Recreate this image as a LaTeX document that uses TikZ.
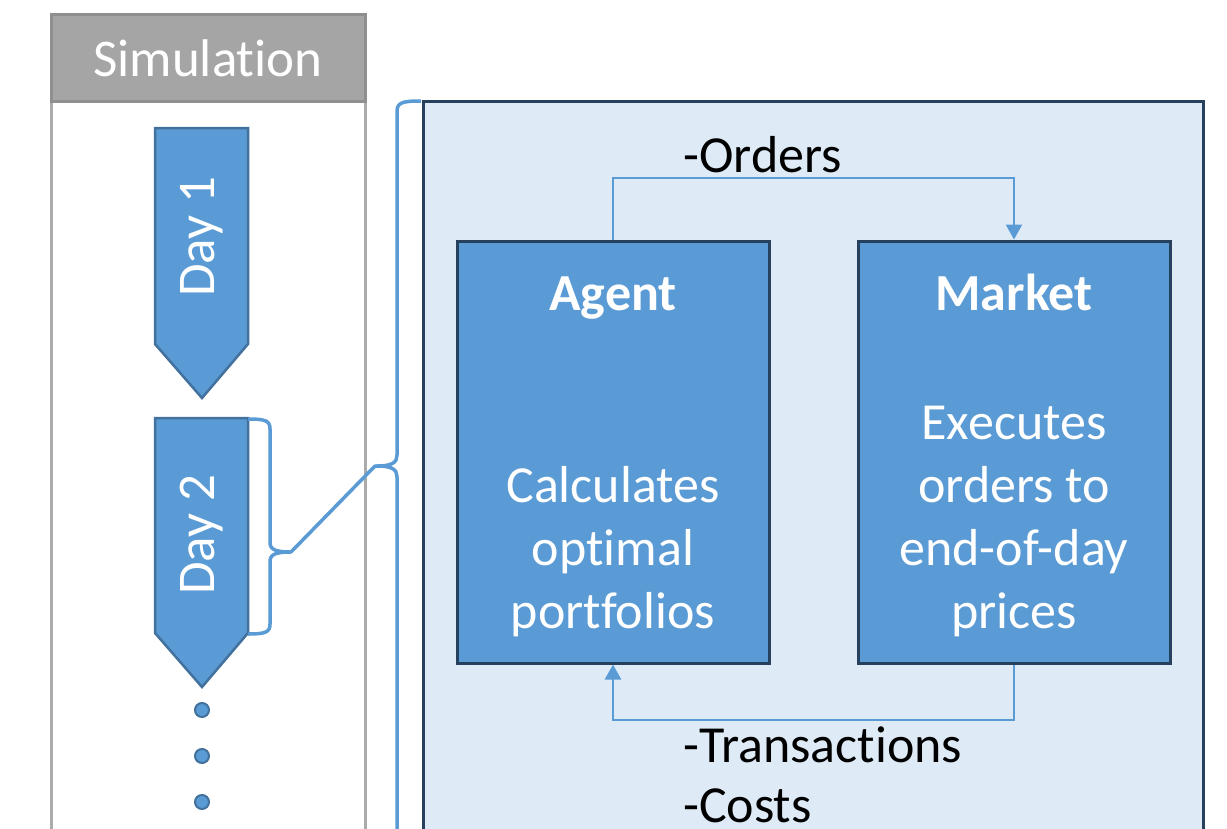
\documentclass[tikz,border=0pt]{standalone}
\usepackage{fontspec}
\setmainfont{Carlito}[Ligatures=NoCommon]
\usetikzlibrary{arrows.meta}
\definecolor{accent}{HTML}{5B9BD5}
\definecolor{accentdark}{HTML}{41719C}
\definecolor{navy}{HTML}{26405E}
\definecolor{paleblue}{HTML}{DEEBF7}
\definecolor{headgray}{HTML}{A5A5A5}
\definecolor{headline}{HTML}{8F8F8F}
\definecolor{bodyline}{HTML}{ABABAB}
\tikzset{
  dayarrow/.style={fill=accent, draw=accentdark, line width=2.5pt, line join=miter},
  daytext/.style={text=white, rotate=90, font=\fontsize{53}{60}\selectfont},
  dotmark/.style={circle, fill=accent, draw=accentdark, line width=2pt, minimum size=14pt, inner sep=0pt},
  bracket/.style={draw=accent, line width=3.5pt, line join=round},
  actor/.style={rectangle, fill=accent, draw=navy, line width=3pt, minimum width=312pt, minimum height=422pt, inner sep=0pt},
  title/.style={text=white, font=\fontsize{52}{63}\selectfont\bfseries, anchor=base},
  bodytext/.style={text=white, font=\fontsize{52}{63}\selectfont, align=center, anchor=base},
  flow/.style={draw=accent, line width=2.5pt, -{Triangle[width=16pt,length=15pt]}},
  flowlabel/.style={text=black, font=\fontsize{52}{60}\selectfont, anchor=base west, inner sep=0pt}
}
\begin{document}
\begin{tikzpicture}[x=1pt, y=-1pt]
\useasboundingbox (0,0) rectangle (1227,828);
\begin{scope}
\clip (0,0) rectangle (1227,828);

% simulation column
\draw[bodyline, line width=3pt, fill=white] (51,101) rectangle (365,860);
\draw[headline, line width=3pt, fill=headgray] (51,14) rectangle (365,101);
\node[text=white, font=\fontsize{53}{63}\selectfont] (simtitle) at (208,58) {Simulation};

% day arrows
\draw[dayarrow] (155,128) -- (248,128) -- (248,344) -- (202,398) -- (155,344) -- cycle;
\node[daytext] (day1) at (202,237) {Day 1};
\draw[dayarrow] (155,418) -- (248,418) -- (248,633) -- (202,687) -- (155,633) -- cycle;
\node[daytext] (day2) at (202,535) {Day 2};

% continuation dots
\node[dotmark] (dot1) at (202,710) {};
\node[dotmark] (dot2) at (202,756) {};
\node[dotmark] (dot3) at (202,802) {};

% detail panel
\draw[navy, line width=3pt, fill=paleblue] (423,101) rectangle (1203,860);

% brace around day 2
\coordinate (smalltip) at (291,552);
\draw[bracket] (248,419) .. controls (266,419) and (270,421) .. (270,429) -- (270,542)
  .. controls (270,549) and (274,552) .. (smalltip)
  .. controls (274,552) and (270,555) .. (270,562) -- (270,624)
  .. controls (270,632) and (266,634) .. (248,634);

% brace along the detail panel
\coordinate (bigtip) at (377,466);
\draw[bracket] (421,101) .. controls (401,101) and (397,103) .. (397,112) -- (397,455)
  .. controls (397,462) and (393,466) .. (bigtip)
  .. controls (393,466) and (397,470) .. (397,477) -- (397,860);

% link between the braces
\coordinate (bend) at (375,466);
\draw[bracket] (smalltip) -- (bend) -- (bigtip);

% agent and market
\node[actor] (agent) at (613,452) {};
\node[actor] (market) at (1014,452) {};

\node[title] (agenttitle) at (613,310) {Agent};
\node[title] (markettitle) at (1014,310) {Market};

% multi-line texts are anchored on the baseline of their last line
\node[bodytext] (agentbody) at (613,628) {Calculates\\optimal\\portfolios};
\node[bodytext] (marketbody) at (1014,628) {Executes\\orders to\\end-of-day\\prices};

% order flow
\coordinate (ordlevel) at (613,178);
\draw[flow] (agent.north) -- (ordlevel) -| (market.north);
\node[flowlabel] (orders) at (683,172) {-Orders};

% transaction flow
\coordinate (txlevel) at (1014,720);
\draw[flow] (market.south) -- (txlevel) -| (agent.south);
\node[flowlabel] (tx) at (683,762) {-Transactions};
\node[flowlabel] (costs) at (683,822) {-Costs};
\end{scope}
\end{tikzpicture}
\end{document}
